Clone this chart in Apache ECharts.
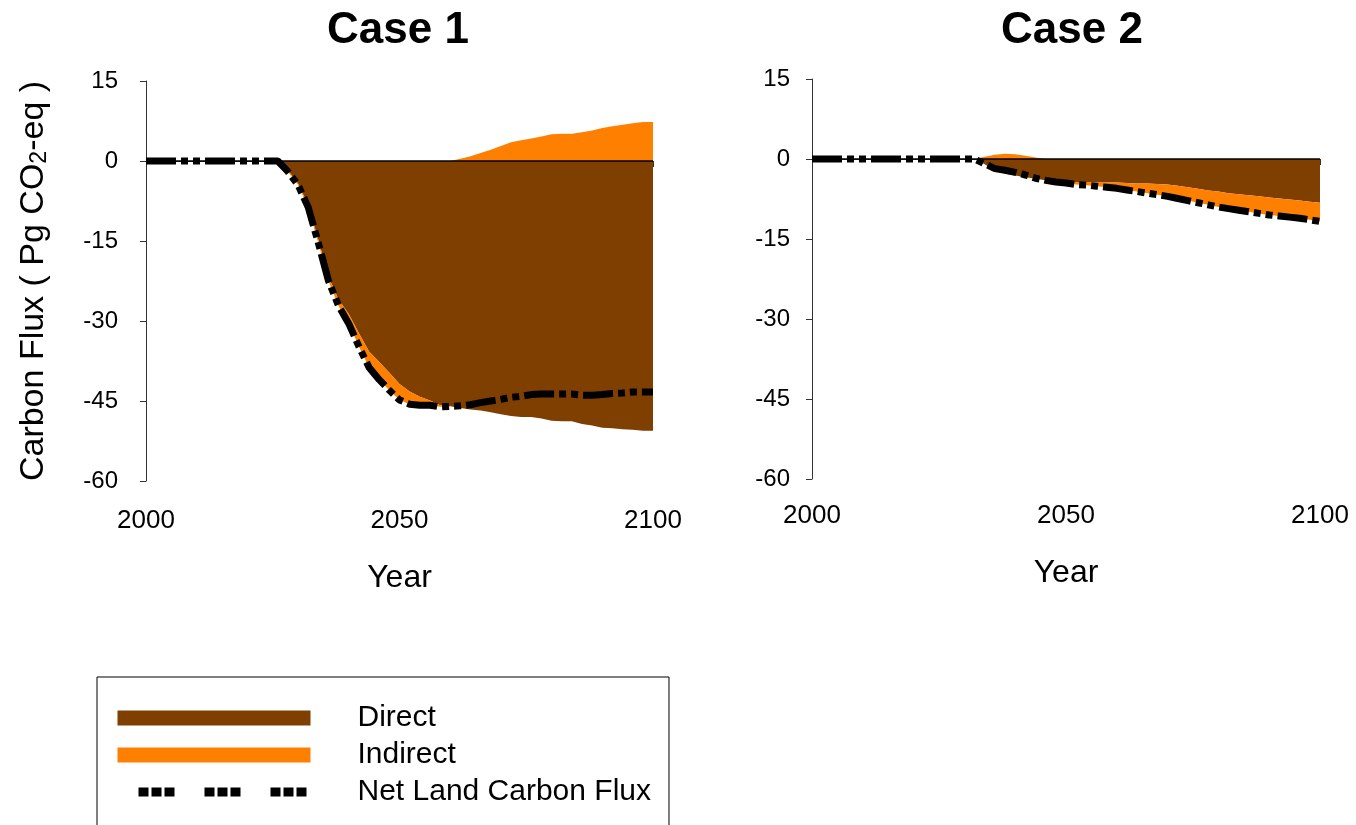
<!DOCTYPE html>
<html>
<head>
<meta charset="utf-8">
<script src="https://cdn.jsdelivr.net/npm/echarts@6/dist/echarts.min.js"></script>
<style>
  html, body { margin: 0; padding: 0; background: #fff; }
  #chart { width: 1356px; height: 825px; }
</style>
</head>
<body>
<div id="chart"></div>
<script>
// years, every 2 years
const years = [
  2000, 2002, 2004, 2006, 2008, 2010, 2012, 2014, 2016, 2018,
  2020, 2022, 2024, 2026, 2028, 2030, 2032, 2034, 2036, 2038,
  2040, 2042, 2044, 2046, 2048, 2050, 2052, 2054, 2056, 2058,
  2060, 2062, 2064, 2066, 2068, 2070, 2072, 2074, 2076, 2078,
  2080, 2082, 2084, 2086, 2088, 2090, 2092, 2094, 2096, 2098, 2100
];
const yTicks = [-60, -45, -30, -15, 0, 15];

// Case 1
const case1Direct = [
  0, 0, 0, 0, 0, 0, 0, 0, 0, 0, 0, 0, 0, 0,
  -1.8, -4.2, -8.3, -14.8, -21.7, -26.0, -28.7, -32.3, -35.7, -37.7,
  -39.7, -41.8, -43.2, -44.2, -44.9, -45.8, -46.0, -46.3, -46.6, -46.8,
  -47.1, -47.5, -47.8, -48.0, -48.0, -48.3, -48.7, -48.8, -48.8, -49.3,
  -49.6, -50.0, -50.1, -50.3, -50.4, -50.6, -50.6
];
const case1Indirect = [
  0, 0, 0, 0, 0, 0, 0, 0, 0, 0, 0, 0, 0, 0,
  -0.2, -0.3, -0.4, -0.6, -0.8, -1.2, -1.8, -2.5, -3.0, -3.3,
  -3.3, -3.0, -2.4, -1.6, -0.9, -0.3, 0, 0.4, 0.9, 1.5,
  2.1, 2.8, 3.5, 3.9, 4.2, 4.6, 5.0, 5.1, 5.1, 5.4,
  5.7, 6.2, 6.5, 6.8, 7.1, 7.3, 7.3
];
const case1Net = [
  0, 0, 0, 0, 0, 0, 0, 0, 0, 0, 0, 0, 0, 0,
  -2.0, -4.5, -8.7, -15.4, -22.5, -27.2, -30.5, -34.8, -38.7, -41.0,
  -43.0, -44.8, -45.6, -45.8, -45.8, -46.1, -46.0, -45.9, -45.7, -45.3,
  -45.0, -44.7, -44.3, -44.1, -43.8, -43.7, -43.7, -43.7, -43.7, -43.9,
  -43.9, -43.8, -43.6, -43.5, -43.3, -43.3, -43.3
];

// Case 2
const case2Direct = [
  0, 0, 0, 0, 0, 0, 0, 0, 0, 0, 0, 0, 0, 0, 0, 0, 0,
  -1.0, -2.2, -2.7, -3.1, -3.4, -3.7, -4.0, -4.1, -4.2, -4.3,
  -4.3, -4.4, -4.4, -4.4, -4.5, -4.6, -4.6, -4.7, -4.8, -5.0,
  -5.3, -5.6, -5.9, -6.1, -6.4, -6.6, -6.8, -7.0, -7.2, -7.4,
  -7.6, -7.8, -8.0, -8.2
];
const case2Indirect = [
  0, 0, 0, 0, 0, 0, 0, 0, 0, 0, 0, 0, 0, 0, 0, 0, 0,
  0.4, 0.8, 1.0, 0.9, 0.6, 0.3, 0.0, -0.2, -0.3, -0.5,
  -0.6, -0.7, -0.9, -1.0, -1.3, -1.5, -1.8, -2.0, -2.2, -2.4,
  -2.5, -2.6, -2.7, -2.9, -2.9, -3.0, -3.1, -3.2, -3.3, -3.3,
  -3.3, -3.3, -3.4, -3.5
];
const case2Net = [
  0, 0, 0, 0, 0, 0, 0, 0, 0, 0, 0, 0, 0, 0, 0, 0, 0,
  -0.9, -1.8, -2.1, -2.5, -3.0, -3.6, -4.0, -4.3, -4.5, -4.8,
  -4.9, -5.1, -5.3, -5.5, -5.8, -6.1, -6.4, -6.7, -7.0, -7.4,
  -7.8, -8.2, -8.6, -9.0, -9.3, -9.6, -9.9, -10.2, -10.5, -10.7,
  -10.9, -11.1, -11.4, -11.7
];

const BROWN = '#7f3f00';
const ORANGE = '#ff8000';
const FONT = '"Liberation Sans", Arial, sans-serif';
const netDash = [30, 5, 7, 5, 7, 5];

const chart = echarts.init(document.getElementById('chart'));

function showEvery50(index) {
  return index % 25 === 0;
}

function xAxisFor(gridIndex, labelMargin, nameGap) {
  return {
    gridIndex: gridIndex,
    type: 'category',
    data: years,
    boundaryGap: false,
    name: 'Year',
    nameLocation: 'middle',
    nameGap: nameGap,
    nameTextStyle: { fontSize: 32, color: '#000', fontFamily: FONT },
    axisLine: { lineStyle: { color: '#333', width: 1 } },
    axisTick: { interval: showEvery50, length: 6, lineStyle: { color: '#333' } },
    axisLabel: { interval: showEvery50, margin: labelMargin, fontSize: 26, color: '#000', fontFamily: FONT },
    splitLine: { show: false },
  };
}

function yAxisFor(gridIndex, labelMargin, withName) {
  const ax = {
    gridIndex: gridIndex,
    type: 'value',
    min: yTicks[0],
    max: yTicks[yTicks.length - 1],
    interval: 15,
    axisLine: { show: true, lineStyle: { color: '#333', width: 1 } },
    axisTick: { show: true, length: 6, lineStyle: { color: '#333' } },
    axisLabel: { margin: labelMargin, fontSize: 24, color: '#000', fontFamily: FONT },
    splitLine: { show: false },
  };
  if (withName) {
    ax.name = '{a|Carbon Flux ( Pg CO}{s|2}{a|-eq )}';
    ax.nameLocation = 'middle';
    ax.nameGap = 95;
    ax.nameTextStyle = {
      rich: {
        a: { fontSize: 34, color: '#000', fontFamily: FONT },
        s: { fontSize: 23, color: '#000', fontFamily: FONT, padding: [12, 0, 0, 0] },
      },
    };
  }
  return ax;
}

// the orange band is split by sign: the negative part stacks under Direct,
// the positive part stacks up from zero
function seriesFor(idx, stackName, direct, indirect, net) {
  const areaBase = {
    type: 'line',
    xAxisIndex: idx,
    yAxisIndex: idx,
    symbol: 'none',
  };
  return [
    Object.assign({}, areaBase, {
      name: 'Direct',
      stack: stackName,
      data: direct,
      itemStyle: { color: BROWN },
      lineStyle: { width: 0, color: BROWN },
      areaStyle: { color: BROWN, opacity: 1 },
      z: 2,
    }),
    Object.assign({}, areaBase, {
      name: 'Indirect',
      stack: stackName,
      data: indirect.map(v => Math.min(v, 0)),
      itemStyle: { color: ORANGE },
      lineStyle: { width: 0, color: ORANGE },
      areaStyle: { color: ORANGE, opacity: 1 },
      z: 3,
    }),
    Object.assign({}, areaBase, {
      name: 'Indirect',
      stack: stackName + 'pos',
      data: indirect.map(v => Math.max(v, 0)),
      itemStyle: { color: ORANGE },
      lineStyle: { width: 0, color: ORANGE },
      areaStyle: { color: ORANGE, opacity: 1 },
      markLine: {
        silent: true,
        symbol: 'none',
        label: { show: false },
        lineStyle: { color: '#000', width: 1.5, type: 'solid' },
        data: [{ yAxis: 0 }],
      },
      z: 3,
    }),
    {
      name: 'Net Land Carbon Flux',
      type: 'line',
      xAxisIndex: idx,
      yAxisIndex: idx,
      symbol: 'none',
      data: net,
      itemStyle: { color: '#000' },
      lineStyle: { color: '#000', width: 7, type: netDash, cap: 'butt' },
      z: 4,
    },
  ];
}

chart.setOption({
  animation: false,
  backgroundColor: '#fff',
  textStyle: { fontFamily: FONT },
  title: [
    { text: 'Case 1', left: 393, top: 4, textAlign: 'center',
      textStyle: { fontSize: 44, fontWeight: 'bold', color: '#000', fontFamily: FONT } },
    { text: 'Case 2', left: 1067, top: 4, textAlign: 'center',
      textStyle: { fontSize: 44, fontWeight: 'bold', color: '#000', fontFamily: FONT } },
  ],
  grid: [
    { left: 146, top: 81, width: 507, height: 400 },
    { left: 812, top: 79, width: 508, height: 400 },
  ],
  xAxis: [xAxisFor(0, 27, 81), xAxisFor(1, 24, 78)],
  yAxis: [yAxisFor(0, 28, true), yAxisFor(1, 22, false)],
  legend: {
    left: 97,
    top: 677,
    height: 400,
    orient: 'vertical',
    padding: [26, 18, 40, 16],
    borderColor: '#000',
    borderWidth: 1,
    itemWidth: 193,
    itemHeight: 15,
    itemGap: 7,
    selectedMode: false,
    textStyle: { fontSize: 30, lineHeight: 28, color: '#000', fontFamily: FONT, padding: [0, 0, 0, 42] },
    data: [
      { name: 'Direct', icon: 'rect' },
      { name: 'Indirect', icon: 'rect' },
      {
        name: 'Net Land Carbon Flux',
        itemStyle: { color: 'rgba(0,0,0,0)', opacity: 0 },
        lineStyle: { color: '#000', width: 9, type: [10, 3, 10, 3, 10, 30], dashOffset: 45, cap: 'butt' },
      },
    ],
  },
  series: [
    ...seriesFor(0, 'case1', case1Direct, case1Indirect, case1Net),
    ...seriesFor(1, 'case2', case2Direct, case2Indirect, case2Net),
  ],
});
</script>
</body>
</html>
